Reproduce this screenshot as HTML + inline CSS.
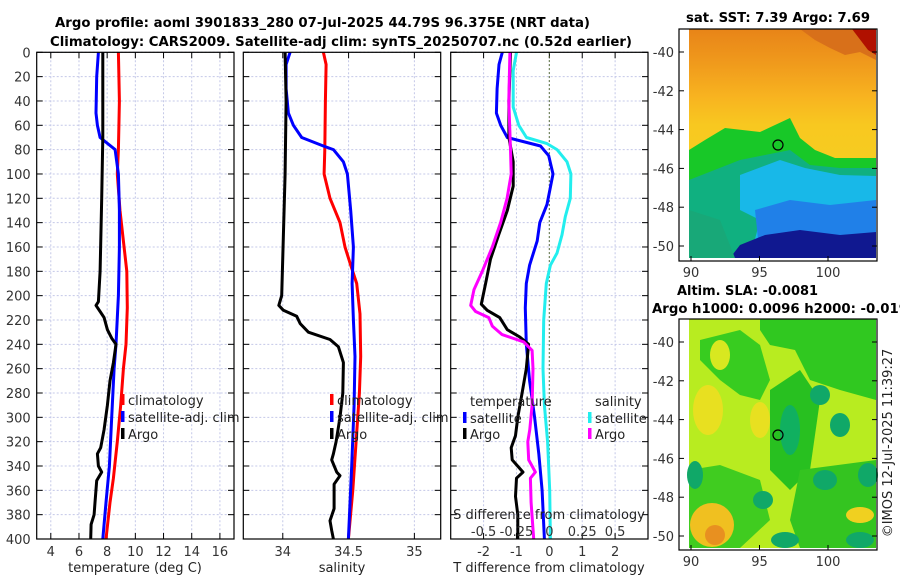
<!DOCTYPE html>
<html><head><meta charset="utf-8"><style>
html,body{margin:0;padding:0;background:#fff;}
svg{display:block;font-family:"DejaVu Sans","Liberation Sans",sans-serif;}
</style></head><body>
<svg id="chart" width="900" height="580" viewBox="0 0 900 580" xmlns="http://www.w3.org/2000/svg">
<g font-weight="bold" font-size="13" fill="#000">
<text x="55" y="27" textLength="535" lengthAdjust="spacingAndGlyphs">Argo profile: aoml 3901833_280 07-Jul-2025 44.79S 96.375E (NRT data)</text>
<text x="50" y="46" textLength="582" lengthAdjust="spacingAndGlyphs">Climatology: CARS2009. Satellite-adj clim: synTS_20250707.nc (0.52d earlier)</text>
</g>
<g id="panels"></g>
<g id="maps"></g>
</svg>
<script>
// ---------- Data ----------
const tempClimDepth=[0,40,80,100,130,150,180,210,240,260,290,320,350,370,400];
const tempClim=[8.80,8.87,8.80,8.72,8.91,9.10,9.39,9.43,9.34,9.15,8.96,8.72,8.44,8.20,7.92];
const tempSatDepth=[0,20,50,60,70,80,100,130,160,200,240,260,300,340,370,400];
const tempSat=[7.38,7.26,7.21,7.31,7.50,8.56,8.80,8.87,8.87,8.80,8.63,8.49,8.32,8.16,7.92,7.69];
const tempArgoDepth=[0,70,120,180,205,208,213,218,228,235,240,255,270,290,310,325,330,340,345,352,370,380,388,400];
const tempArgo=[7.69,7.69,7.61,7.50,7.38,7.21,7.50,7.78,8.02,8.32,8.63,8.44,8.20,8.02,7.78,7.54,7.31,7.38,7.61,7.26,7.14,7.07,6.86,6.83];

const salClimDepth=[0,10,40,80,100,120,140,160,175,190,215,250,280,320,360,400];
const salClim=[34.309,34.329,34.324,34.319,34.314,34.359,34.435,34.473,34.516,34.562,34.587,34.592,34.582,34.557,34.532,34.499];
const salSatDepth=[0,10,30,50,60,70,77,80,90,100,130,160,190,220,250,290,340,400];
const salSat=[34.056,34.025,34.025,34.043,34.081,34.144,34.309,34.385,34.461,34.491,34.516,34.537,34.527,34.537,34.549,34.542,34.524,34.499];
const salArgoDepth=[0,40,100,150,200,208,212,217,223,230,236,242,255,280,300,320,330,335,345,348,355,375,385,393,400];
const salArgo=[34.018,34.025,34.018,34.005,33.992,33.970,34.005,34.106,34.132,34.195,34.359,34.423,34.461,34.456,34.435,34.405,34.385,34.372,34.410,34.435,34.390,34.390,34.359,34.372,34.385];

const dTSatDepth=[0,10,30,50,60,70,77,85,100,125,140,155,175,190,210,240,270,300,330,360,400];
const dTSat=[-1.43,-1.53,-1.59,-1.61,-1.48,-1.28,-0.27,-0.02,0.11,-0.07,-0.29,-0.37,-0.60,-0.70,-0.73,-0.70,-0.60,-0.45,-0.32,-0.22,-0.15];
const dTArgoDepth=[0,40,70,90,110,130,150,170,190,207,212,218,228,234,240,260,280,300,315,325,335,345,350,365,380,400];
const dTArgo=[-1.18,-1.23,-1.23,-1.10,-1.10,-1.28,-1.54,-1.79,-1.94,-2.07,-1.89,-1.51,-1.28,-0.90,-0.63,-0.70,-0.83,-0.96,-1.03,-1.16,-1.13,-0.80,-1.00,-1.03,-0.96,-0.96];
const dSSatDepth=[0,15,45,60,70,75,80,90,100,120,135,150,165,175,190,220,260,290,320,360,400];
const dSSat=[-0.250,-0.275,-0.275,-0.232,-0.174,-0.018,0.058,0.134,0.164,0.159,0.121,0.096,0.058,0.008,-0.023,-0.043,-0.048,-0.038,-0.013,0.003,0.008];
const dSArgoDepth=[0,40,80,100,120,140,160,180,195,208,213,218,225,232,238,245,260,290,310,320,335,345,350,370,400];
const dSArgo=[-0.300,-0.308,-0.295,-0.290,-0.321,-0.371,-0.434,-0.510,-0.573,-0.598,-0.561,-0.460,-0.434,-0.359,-0.194,-0.131,-0.124,-0.131,-0.149,-0.164,-0.157,-0.106,-0.144,-0.139,-0.119];

const depthTicks=[0,20,40,60,80,100,120,140,160,180,200,220,240,260,280,300,320,340,360,380,400];
const tempTicks=[4,6,8,10,12,14,16];
const salTicks=[34,34.5,35];
const salTickLabels=["34","34.5","35"];
const dTTicks=[-2,-1,0,1,2];
const dSTicks=[-0.5,-0.25,0,0.25,0.5];
const dSTickLabels=["-0.5","-0.25","0","0.25","0.5"];
const latTicks=[-40,-42,-44,-46,-48,-50];
const lonTicks=[90,95,100];

// ---------- helpers ----------
const NS="http://www.w3.org/2000/svg";
function mk(tag,attrs,parent){const e=document.createElementNS(NS,tag);for(const k in attrs)e.setAttribute(k,attrs[k]);parent.appendChild(e);return e;}
const Y0=52.3,Y1=539;
const yScale=d=>Y0+(d/400)*(Y1-Y0);
const panelsG=document.getElementById('panels');

function makePanel(name,x0,x1,dmin,dmax,gridVals,yLabels){
  const g=mk('g',{},panelsG);
  
  
  const xs=v=>x0+(v-dmin)/(dmax-dmin)*(x1-x0);
  depthTicks.forEach(d=>{const l=mk('line',{x1:x0,x2:x1,y1:yScale(d),y2:yScale(d),stroke:'#c4c8e8','stroke-width':1,'stroke-dasharray':'2,2'},g);
    
    const t1=mk('line',{x1:x0,x2:x0+6,y1:yScale(d),y2:yScale(d),stroke:'#000'},g);
    
    const t2=mk('line',{x1:x1-6,x2:x1,y1:yScale(d),y2:yScale(d),stroke:'#000'},g);
    
    if(yLabels){const t=mk('text',{x:x0-6,y:yScale(d)+5,'text-anchor':'end','font-size':13,fill:'#333'},g);t.textContent=d;
      }
  });
  gridVals.forEach(v=>{const l=mk('line',{x1:xs(v),x2:xs(v),y1:Y0,y2:Y1,stroke:'#c4c8e8','stroke-width':1,'stroke-dasharray':'2,2'},g);
    
    const t1=mk('line',{x1:xs(v),x2:xs(v),y1:Y1-6,y2:Y1,stroke:'#000'},g);
    
    const t2=mk('line',{x1:xs(v),x2:xs(v),y1:Y0,y2:Y0+6,stroke:'#000'},g);
    
  });
  return {g,xs};
}
function drawLine(p,depths,vals,color,name){
  const pts=depths.map((d,i)=>p.xs(vals[i]).toFixed(1)+','+yScale(d).toFixed(1)).join(' ');
  const l=mk('polyline',{points:pts,fill:'none',stroke:color,'stroke-width':3,'stroke-linejoin':'round'},p.g);
  
}
function frame(p,x0,x1){const r=mk('rect',{x:x0,y:Y0,width:x1-x0,height:Y1-Y0,fill:'none',stroke:'#000','stroke-width':1.2},p.g);
  }
function xLabels(p,vals,labels,y){vals.forEach((v,i)=>{const t=mk('text',{x:p.xs(v),y:y,'text-anchor':'middle','font-size':13,fill:'#333'},p.g);t.textContent=labels[i];
  });}
function txt(p,x,y,s,name,anchor){const t=mk('text',{x:x,y:y,'font-size':13,fill:'#222','text-anchor':anchor||'start'},p.g);t.textContent=s;
  return t;}
function legendMark(p,x,y,color){const r=mk('rect',{x:x,y:y-11,width:3.5,height:11,fill:color},p.g);
  }

// Panel 1: temperature
const P1=makePanel('temperature-panel',36.7,234,3,17,tempTicks,true);
drawLine(P1,tempClimDepth,tempClim,'#ff0000','temp-climatology-line');
drawLine(P1,tempSatDepth,tempSat,'#0000ff','temp-satellite-line');
drawLine(P1,tempArgoDepth,tempArgo,'#000000','temp-argo-line');
frame(P1,36.7,234);
xLabels(P1,tempTicks,tempTicks.map(String),556);
txt(P1,135,572,'temperature (deg C)','x-axis-title','middle');
legendMark(P1,121,405,'#ff0000');txt(P1,128,405,'climatology','legend-climatology');
legendMark(P1,121,422,'#0000ff');txt(P1,128,422,'satellite-adj. clim','legend-satellite');
legendMark(P1,121,439,'#000');txt(P1,128,439,'Argo','legend-argo');

// Panel 2: salinity
const P2=makePanel('salinity-panel',243.3,440.7,33.7,35.2,salTicks,false);
drawLine(P2,salClimDepth,salClim,'#ff0000','sal-climatology-line');
drawLine(P2,salSatDepth,salSat,'#0000ff','sal-satellite-line');
drawLine(P2,salArgoDepth,salArgo,'#000000','sal-argo-line');
frame(P2,243.3,440.7);
xLabels(P2,salTicks,salTickLabels,556);
txt(P2,342,572,'salinity','x-axis-title','middle');
legendMark(P2,330,405,'#ff0000');txt(P2,337,405,'climatology','legend-climatology');
legendMark(P2,330,422,'#0000ff');txt(P2,337,422,'satellite-adj. clim','legend-satellite');
legendMark(P2,330,439,'#000');txt(P2,337,439,'Argo','legend-argo');

// Panel 3: differences
const P3=makePanel('difference-panel',450.7,648,-3,3,dTTicks,false);
const zl=mk('line',{x1:P3.xs(0),x2:P3.xs(0),y1:Y0,y2:Y1,stroke:'#556b2f','stroke-width':1.2,'stroke-dasharray':'1.5,2.5'},P3.g);

drawLine(P3,dTSatDepth,dTSat,'#0000ff','dT-satellite-line');
drawLine(P3,dTArgoDepth,dTArgo,'#000000','dT-argo-line');
const dS=v=>v*4;
drawLine(P3,dSSatDepth,dSSat.map(dS),'#22eeee','dS-satellite-line');
drawLine(P3,dSArgoDepth,dSArgo.map(dS),'#ff00ff','dS-argo-line');
frame(P3,450.7,648);
xLabels(P3,dTTicks,dTTicks.map(String),556);
txt(P3,549,572,'T difference from climatology','x-axis-title-T','middle');
txt(P3,549,519,'S difference from climatology','x-axis-title-S','middle');
xLabels(P3,dSTicks.map(dS),dSTickLabels,536);
txt(P3,470,406,'temperature','legend-temperature-heading');
legendMark(P3,463,423,'#0000ff');txt(P3,470,423,'satellite','legend-temp-satellite');
legendMark(P3,463,439,'#000');txt(P3,470,439,'Argo','legend-temp-argo');
txt(P3,595,406,'salinity','legend-salinity-heading');
legendMark(P3,588,423,'#22eeee');txt(P3,595,423,'satellite','legend-sal-satellite');
legendMark(P3,588,439,'#ff00ff');txt(P3,595,439,'Argo','legend-sal-argo');

// ---------- Maps ----------
const mapsG=document.getElementById('maps');
function makeMap(name,fy0,fy1,lat40y,lat50y){
  const g=mk('g',{},mapsG);
  
  const lonX=v=>691+(v-90)/10*(828-691);
  const latY=v=>lat40y+(v+40)/(-10)*(lat50y-lat40y);
  return {g,lonX,latY,fy0,fy1};
}
function mapAxes(m){
  const g=m.g;
  const r=mk('rect',{x:679,y:m.fy0,width:198,height:m.fy1-m.fy0,fill:'none',stroke:'#000','stroke-width':1.2},g);
  
  latTicks.forEach(v=>{const y=m.latY(v);
    const t=mk('line',{x1:679,x2:684,y1:y,y2:y,stroke:'#000'},g);
    const t2=mk('line',{x1:872,x2:877,y1:y,y2:y,stroke:'#000'},g);
    const l=mk('text',{x:674,y:y+5,'text-anchor':'end','font-size':13,fill:'#333'},g);l.textContent=v;
    });
  lonTicks.forEach(v=>{const x=m.lonX(v);
    const t=mk('line',{x1:x,x2:x,y1:m.fy1-5,y2:m.fy1,stroke:'#000'},g);
    const l=mk('text',{x:x,y:m.fy1+16,'text-anchor':'middle','font-size':13,fill:'#333'},g);l.textContent=v;
    });
}
function poly(g,pts,fill,name){const p=mk('polygon',{points:pts,fill:fill},g);}
function ell(g,cx,cy,rx,ry,fill,name){const e=mk('ellipse',{cx,cy,rx,ry,fill},g);}

// Map 1: SST
const M1=makeMap('sst-map',29,261,52,246);
{
  const g=M1.g;
  const defs=mk('defs',{},g);
  const lg=mk('linearGradient',{id:'sstg',x1:0,y1:0,x2:0,y2:1},defs);
  [['0','#e88418'],['0.15','#f09a1c'],['0.3','#f8b420'],['0.42','#f8c820'],['1','#f0d820']].forEach(s=>mk('stop',{offset:s[0],'stop-color':s[1]},lg));
  const bg=mk('rect',{x:689,y:29,width:187,height:229,fill:'url(#sstg)'},g);
  
  poly(g,'800,29 876,29 876,60 860,52 845,55 830,48 815,40','#d8701a','warm-region');
  poly(g,'852,29 876,29 876,55 868,50','#b01000','hot-corner');
  poly(g,'689,150 705,140 725,128 760,132 775,125 790,118 800,138 815,150 835,158 876,158 876,258 689,258','#18c828','green-band');
  poly(g,'689,180 740,160 765,155 790,150 810,165 840,168 876,168 876,258 689,258','#10b080','teal-band');
  poly(g,'740,175 780,160 805,168 840,175 876,176 876,258 750,258 760,220 740,210','#18b8e8','cyan-region');
  poly(g,'755,210 790,200 830,205 876,200 876,258 760,258','#2080e8','blue-region');
  poly(g,'765,235 800,230 840,235 876,232 876,258 730,258 740,245','#101890','navy-region');
  poly(g,'689,210 720,220 735,258 689,258','#18a878','sw-green');
  const c=mk('circle',{cx:778,cy:145,r:5,fill:'none',stroke:'#000','stroke-width':1.2},g);
  
  mapAxes(M1);
  const t=mk('text',{x:686,y:22,'font-size':13,'font-weight':'bold',textLength:184,lengthAdjust:'spacingAndGlyphs'},g);t.textContent='sat. SST: 7.39 Argo: 7.69';
  
}
// Map 2: SLA
const M2=makeMap('sla-map',319,550,342,536);
{
  const g=M2.g;
  const bg=mk('rect',{x:689,y:319,width:187,height:229,fill:'#b8ec20'},g);
  
  poly(g,'760,319 876,319 876,400 840,390 810,380 795,350 770,345 760,330','#30c820','green-region-n');
  poly(g,'700,340 740,330 760,345 770,380 760,400 740,395 720,380 700,360','#38cc20','green-region-nw');
  poly(g,'770,390 800,370 820,400 810,470 790,490 770,470','#28c020','green-region-c');
  poly(g,'689,470 720,465 760,480 770,520 740,548 689,548','#40cc20','green-region-sw');
  poly(g,'800,470 876,460 876,548 800,548 790,520','#34c420','green-region-se');
  ell(g,790,430,10,25,'#10b060','trough-center');
  ell(g,820,395,10,10,'#10a868','trough-n');
  ell(g,840,425,10,12,'#10a868','trough-e');
  ell(g,868,475,10,12,'#10a868','trough-far-e');
  ell(g,825,480,12,10,'#10a868','trough-se');
  ell(g,763,500,10,9,'#10a868','trough-s');
  ell(g,695,475,8,14,'#10a868','trough-w');
  ell(g,785,540,14,8,'#10a868','trough-bottom');
  ell(g,860,540,14,8,'#10a868','trough-bottom-e');
  ell(g,708,410,15,25,'#e8e020','ridge-west');
  ell(g,712,525,22,22,'#f0c020','ridge-sw');
  ell(g,715,535,10,10,'#e89020','ridge-sw-core');
  ell(g,760,420,10,18,'#e8e020','ridge-c');
  ell(g,860,515,14,8,'#f0d020','ridge-se');
  ell(g,720,355,10,15,'#d8e820','ridge-nw');
  const c=mk('circle',{cx:778,cy:435,r:5,fill:'none',stroke:'#000','stroke-width':1.2},g);
  
  mapAxes(M2);
  const t=mk('text',{x:677,y:295,'font-size':13,'font-weight':'bold',textLength:141,lengthAdjust:'spacingAndGlyphs'},g);t.textContent='Altim. SLA: -0.0081';
  
  const t2=mk('text',{x:652,y:313,'font-size':13,'font-weight':'bold',textLength:256,lengthAdjust:'spacingAndGlyphs'},g);t2.textContent='Argo h1000: 0.0096 h2000: -0.019';
  
  const cr=mk('text',{x:0,y:0,'font-size':13,fill:'#222','text-anchor':'middle',transform:'translate(892,443) rotate(-90)'},g);cr.textContent='©IMOS 12-Jul-2025 11:39:27';
  
}
</script>
</body></html>
